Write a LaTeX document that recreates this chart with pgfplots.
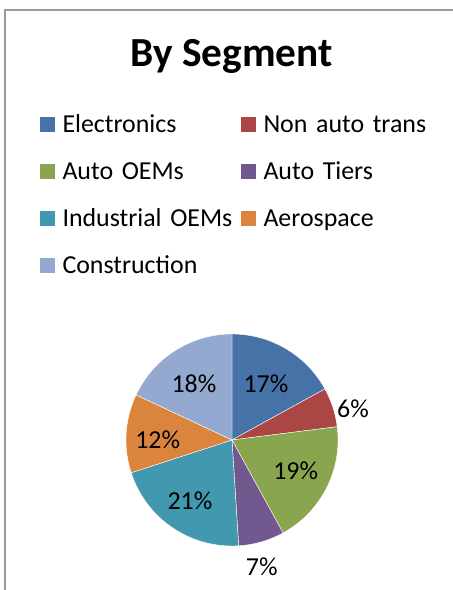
\documentclass[border=0pt]{standalone}
\usepackage{fontspec}
\setmainfont{Carlito}
\usepackage{pgfplots}
\pgfplotsset{compat=1.18}
\definecolor{c1}{HTML}{4572A7}
\definecolor{c2}{HTML}{AA4643}
\definecolor{c3}{HTML}{89A54E}
\definecolor{c4}{HTML}{71588F}
\definecolor{c5}{HTML}{4198AF}
\definecolor{c6}{HTML}{DB843D}
\definecolor{c7}{HTML}{93A9CF}
\definecolor{frame}{HTML}{9A9A9A}
\protected\def\legfont{\fontsize{26}{30}\selectfont\fontdimen2\font=3.5bp\relax}
% pie centre (232,150), radius 106; slice: colour, cumulative start (%), value (%)
\newcommand\slice[3]{%
  \addplot[fill=#1, draw=white, line width=0.4bp,
    domain={90-3.6*(#2+#3)}:{90-3.6*(#2)}, samples=80]
    ({232+106*cos(x)},{150+106*sin(x)}) -- (axis cs:232,150) -- cycle;
}
\begin{document}
\begin{tikzpicture}
\begin{axis}[
  scale only axis, width=453bp, height=590bp,
  xmin=0, xmax=453, ymin=0, ymax=590,
  hide axis, clip=false,
  legend columns=2,
  legend image code/.code={\fill[#1,draw=none] (0bp,-7.5bp) rectangle (15bp,7.5bp);},
  legend cell align=left,
  legend style={draw=none, fill=none, inner sep=0pt, column sep=8bp, row sep=32bp,
    at={(axis cs:39.3,473)}, anchor=north west,
    font=\legfont,
    nodes={inner sep=0pt, text height=15bp, text depth=0bp, text width=170bp, align=left}},
]
\draw[frame, line width=1.5bp] (axis cs:5,0) -- (axis cs:5,580) -- (axis cs:453,580);
\node[anchor=base, font=\bfseries\fontsize{41.5}{46}\selectfont] at (axis cs:231.5,523.3) {By Segment};
\slice{c1}{0}{17}
\slice{c2}{17}{6}
\slice{c3}{23}{19}
\slice{c4}{42}{7}
\slice{c5}{49}{21}
\slice{c6}{70}{12}
\slice{c7}{82}{18}
\legend{Electronics, Non auto trans, Auto OEMs, Auto Tiers, Industrial OEMs, Aerospace, Construction}
\begin{scope}[every node/.style={inner sep=0pt, font=\fontsize{26}{30}\selectfont}]
\node at (axis cs:266,206.5) {17\%};
\node at (axis cs:353,181) {6\%};
\node at (axis cs:295.7,119.3) {19\%};
\node at (axis cs:261.7,23.3) {7\%};
\node at (axis cs:190,89) {21\%};
\node at (axis cs:157.7,150) {12\%};
\node at (axis cs:194,206) {18\%};
\end{scope}
\end{axis}
\pgfresetboundingbox
\path (0,0) rectangle (453bp,590bp);
\end{tikzpicture}
\end{document}
